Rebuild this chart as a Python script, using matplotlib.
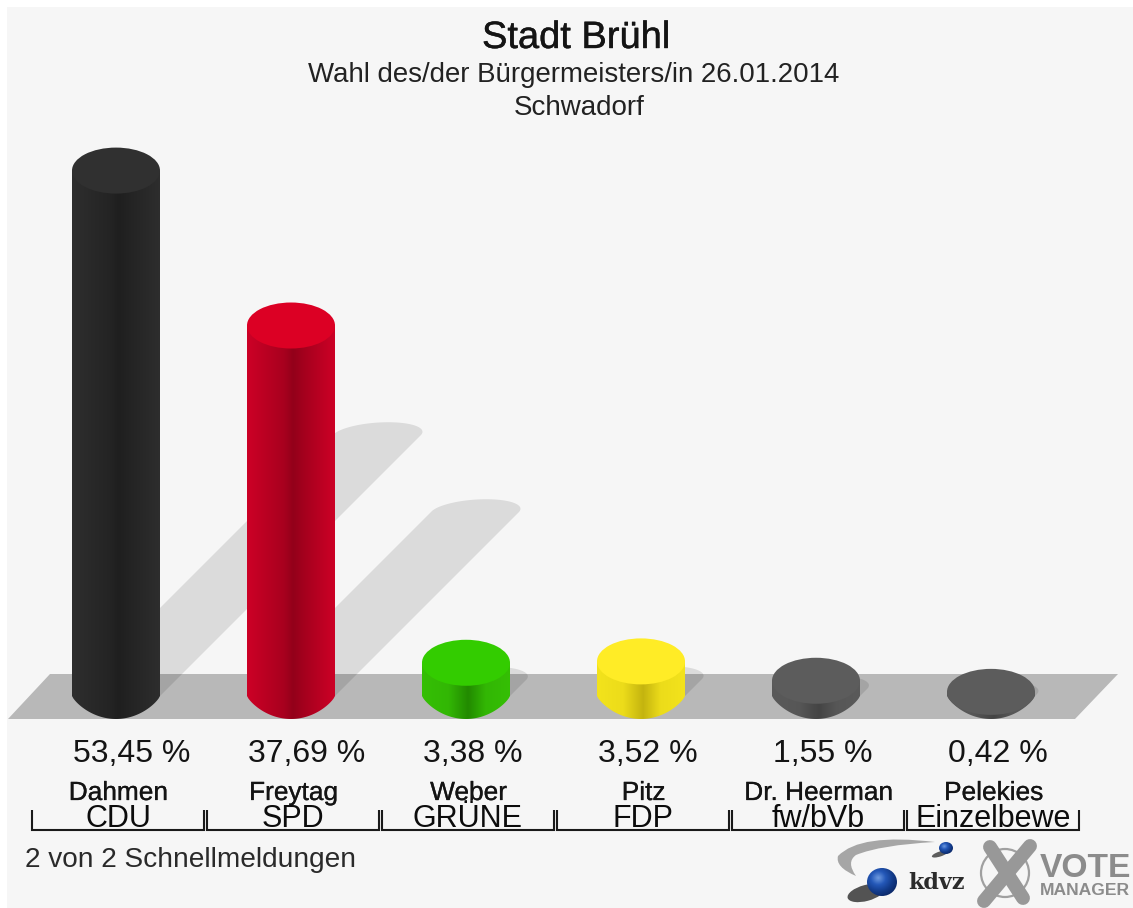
import numpy as np
import matplotlib
matplotlib.use("Agg")
import matplotlib.pyplot as plt
import matplotlib.patheffects as pe
from matplotlib.path import Path
from matplotlib.patches import PathPatch, Polygon, Circle, Rectangle, Ellipse
from matplotlib.colors import to_rgb, LinearSegmentedColormap

plt.rcParams['font.family'] = ['Liberation Sans', 'DejaVu Sans']

# ---- data -----------------------------------------------------------
title = "Stadt Brühl"
subtitle = "Wahl des/der Bürgermeisters/in 26.01.2014"
district = "Schwadorf"
footer = "2 von 2 Schnellmeldungen"
candidates = ["Dahmen", "Freytag", "Weber", "Pitz", "Dr. Heerman", "Pelekies"]
parties = ["CDU", "SPD", "GRÜNE", "FDP", "fw/bVb", "Einzelbewe"]
values = [53.45, 37.69, 3.38, 3.52, 1.55, 0.42]
value_labels = ["53,45 %", "37,69 %", "3,38 %", "3,52 %", "1,55 %", "0,42 %"]
edge_colors = ["#2e2e2e", "#cd0026", "#35bf05", "#f3e31c", "#5a5a5a", "#5a5a5a"]
dark_colors = ["#1f1f1f", "#93001a", "#228a00", "#c4b40f", "#444444", "#444444"]
top_colors = ["#303030", "#dc0024", "#33cc00", "#ffec26", "#5c5c5c", "#5c5c5c"]

# ---- layout ---------------------------------------------------------
W, H = 1133, 908
X0, DX = 116.0, 175.0      # px of the first bar centre, px between bars
Y0, PPU = 696.0, 9.83      # px of value 0, px per percentage point
HALF_W, HALF_H = 44.0, 23.0

fig = plt.figure(figsize=(W / 100, H / 100), dpi=100, facecolor="white")

# decoration layer in pixel coordinates
px = fig.add_axes([0, 0, 1, 1], zorder=0)
px.set_xlim(0, W)
px.set_ylim(H, 0)
px.axis("off")
px.add_patch(Rectangle((7, 7), W - 7, H - 7, fc="#f6f6f6", ec="none"))
px.add_patch(Polygon([(8, 719), (50, 674), (1118, 674), (1075, 719)], fc="#b8b8b8", ec="none"))

# data layer
ax = fig.add_axes([0, 0, 1, 1], zorder=1)
ax.patch.set_alpha(0)
ax.axis("off")
xlim = (-X0 / DX, (W - X0) / DX)
ylim = ((Y0 - H) / PPU, Y0 / PPU)
w = HALF_W / DX
h = HALF_H / PPU
th = np.linspace(0, np.pi, 60)

# shadows: a 45 degree band with a skewed elliptic cap
for i, v in enumerate(values):
    sx = v * 0.497 * PPU / DX
    sy = v * 0.497
    xs = [i - w] + list(i + sx - w * np.cos(th) + 0.25 * w * np.sin(th)) + [i + w]
    ys = [0] + list(sy + h * 0.55 * np.sin(th)) + [0]
    ax.add_patch(Polygon(np.column_stack([xs, ys]), fc="black", alpha=0.105, ec="none"))

# cylinders
for i, v in enumerate(values):
    e, d = np.array(to_rgb(edge_colors[i])), np.array(to_rgb(dark_colors[i]))
    t = np.linspace(-1, 1, 256)
    if v > 10:
        m = np.interp(t, [-1.0, -0.15, 0.05, 0.3, 1.0], [0.0, 0.65, 1.0, 0.7, 0.0])
    else:
        m = np.interp(t, [-1.0, -0.4, 0.05, 0.45, 1.0], [0.0, 0.15, 1.0, 0.15, 0.0])
    grad = (e * (1 - m[:, None]) + d * m[:, None])[None, :, :]
    u = np.linspace(-1, 1, 60)
    verts = [(i - w, v), (i - w, 0)]
    verts += [(i + w * a, -h * (1 - a ** 2) ** 0.8) for a in u]
    verts += [(i + w, v), (i - w, v)]
    codes = [Path.MOVETO] + [Path.LINETO] * (len(verts) - 2) + [Path.CLOSEPOLY]
    clip = Path(verts, codes)
    im = ax.imshow(grad, extent=(i - w, i + w, -h, v), aspect="auto",
                   interpolation="bilinear", zorder=3)
    im.set_clip_path(clip, transform=ax.transData)
    ax.add_patch(Ellipse((i, v), 2 * w, 2 * h, fc=top_colors[i], ec="none", zorder=4))
ax.set_xlim(xlim)
ax.set_ylim(ylim)

# ---- text -----------------------------------------------------------
TC = "#141414"
def firm(color, lw=0.3):
    return [pe.withStroke(linewidth=lw, foreground=color)]

px.text(576, 48, title, ha="center", va="baseline", fontsize=27.4, color=TC, path_effects=firm(TC))
px.text(574, 82, subtitle, ha="center", va="baseline", fontsize=19.9, color="#222222")
px.text(579, 115, district, ha="center", va="baseline", fontsize=20, color="#222222")
px.text(25, 867, footer, ha="left", va="baseline", fontsize=20.15, color="#2a2a2a")

for i in range(len(values)):
    cx = X0 + DX * i
    px.text(cx - HALF_W + 1, 762, value_labels[i], ha="left", va="baseline",
            fontsize=23, color=TC)
    px.text(cx + 2.5, 800, candidates[i], ha="center", va="baseline",
            fontsize=18.9, color=TC, path_effects=firm(TC, 0.2))
    px.text(cx + 2, 827, parties[i], ha="center", va="baseline",
            fontsize=22, color="#0c0c0c")
    x0, x1 = 32 + DX * i, 204 + DX * i
    px.plot([x0, x0, x1, x1], [810, 830, 830, 810], color="#1a1a1a", lw=1.5,
            solid_joinstyle="miter", solid_capstyle="butt")

# ---- logos ----------------------------------------------------------
px.add_patch(PathPatch(Path(
    [(935, 842), (860, 833), (838, 856), (835, 867), (856, 876), (846, 862), (856, 855), (880, 845), (935, 842)],
    [Path.MOVETO, Path.CURVE3, Path.CURVE3, Path.CURVE3, Path.CURVE3, Path.CURVE3, Path.CURVE3, Path.CURVE3, Path.CURVE3]),
    fc="#a6a6a6", ec="none"))

blue = LinearSegmentedColormap.from_list("b", ["#6f9be0", "#2458b8", "#123a88", "#0a2460"])
def sphere(cx, cy, rx, ry):
    yy, xx = np.mgrid[-1:1:80j, -1:1:80j]
    d = np.hypot(xx + 0.25, yy + 0.3) / 1.5
    im = px.imshow(d, extent=(cx - rx, cx + rx, cy + ry, cy - ry), cmap=blue, vmin=0, vmax=1,
                   aspect="auto", interpolation="bilinear", zorder=3)
    c = Ellipse((cx, cy), 2 * rx, 2 * ry, transform=px.transData)
    im.set_clip_path(c)

px.add_patch(Ellipse((866, 893), 38, 16, angle=-15, fc="#2a2a2a", ec="none", alpha=0.8, zorder=2))
sphere(882, 882, 15, 14)
px.add_patch(Ellipse((940, 854), 17, 5, angle=-18, fc="#2a2a2a", ec="none", alpha=0.75, zorder=2))
sphere(946, 848, 7, 6)
px.set_xlim(0, W)
px.set_ylim(H, 0)

px.text(908, 889, "kdvz", ha="left", va="baseline", fontsize=16, fontweight="bold",
        family="DejaVu Serif", color="#2b2b2b")

px.add_patch(Circle((1005, 873), 24, fc="none", ec="#a0a0a0", lw=1.6))
px.plot([990, 1023], [847, 898], color="#989898", lw=10, solid_capstyle="round")
px.plot([1030, 984], [846, 901], color="#989898", lw=10, solid_capstyle="round")
px.text(1040, 877, "VOTE", ha="left", va="baseline", fontsize=24.2, fontweight="bold",
        color="#8c8c8c")
px.text(1040, 895, "MANAGER", ha="left", va="baseline", fontsize=12.6, fontweight="bold",
        color="#8c8c8c")

fig.savefig("out.png", dpi=100, facecolor="white")
